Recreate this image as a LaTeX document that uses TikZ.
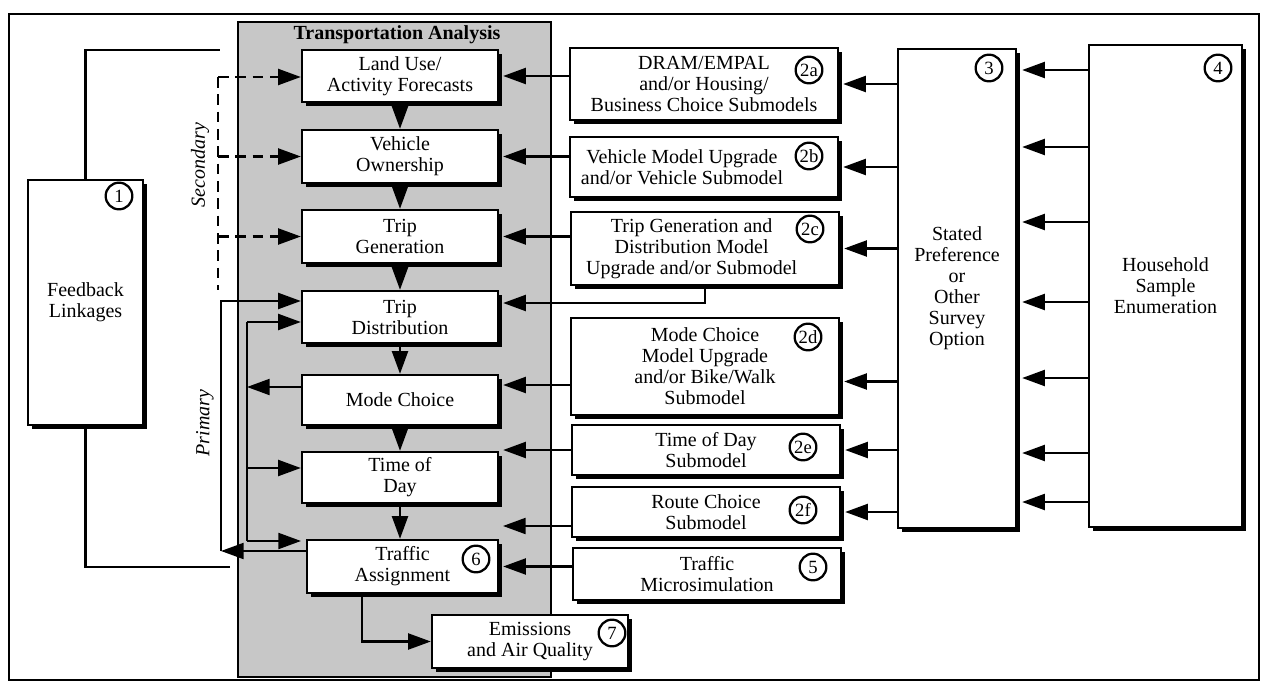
\documentclass[tikz,border=0pt]{standalone}
\usepackage{fontspec}
\setmainfont{Liberation Serif}
\usetikzlibrary{arrows.meta,shadows,calc}

\tikzset{every picture/.style={line width=0.75pt}}
\tikzset{
  blk/.style={draw, fill=white, line width=1.8pt, align=center, inner sep=2pt,
    font=\fontsize{15}{15.75}\selectfont,
    drop shadow={shadow xshift=3pt, shadow yshift=-3pt, fill=black, opacity=1}},
  num/.style={draw, circle, fill=white, line width=1.7pt, inner sep=0.5pt,
    minimum size=20pt, font=\fontsize{14}{14}\selectfont},
  arr/.style={line width=1.6pt, -{Triangle[length=17pt,width=12pt]}},
  dasharr/.style={arr, dash pattern=on 8pt off 5pt},
  sidelab/.style={rotate=90, font=\itshape\fontsize{15}{15}\selectfont},
}

\begin{document}
\begin{tikzpicture}[x=0.75pt,y=0.75pt,yscale=-1,xscale=1]
      \useasboundingbox (0,0) rectangle (1265,685);

      %Shape: Rectangle [frame]
      \draw [line width=1.2pt] (9,14) rectangle (1259,680);

      %Shape: Rectangle [shaded panel]
      \fill [black!22] (238,22) rectangle (551,677);
      \draw [line width=1.6pt] (238,22) rectangle (551,677);
      \node [font=\bfseries\fontsize{15}{15}\selectfont] (tatitle) at (397,35) {Transportation Analysis};

      % model chain
      \node [blk, minimum width=147pt, minimum height=39pt] (land) at (400,76) {Land Use/\\Activity Forecasts};
      \node [blk, minimum width=147pt, minimum height=39.75pt] (vown) at (400,156.5) {Vehicle\\Ownership};
      \node [blk, minimum width=147pt, minimum height=39.75pt] (tgen) at (400,236.5) {Trip\\Generation};
      \node [blk, minimum width=147pt, minimum height=39pt] (tdist) at (400,317) {Trip\\Distribution};
      \node [blk, minimum width=147pt, minimum height=37.5pt] (mode) at (400,400) {Mode Choice};
      \node [blk, minimum width=147pt, minimum height=38.25pt] (tod) at (400,477.5) {Time of\\Day};
      \node [blk, minimum width=143.25pt, minimum height=39.75pt] (tassign) at (402.5,566.5) {Traffic\\Assignment};
      \node [blk, minimum width=147pt, minimum height=39.75pt] (emis) at (530,641.5) {Emissions\\and Air Quality};

      % submodels
      \node [blk, minimum width=201pt, minimum height=54pt] (s2a) at (704,84) {DRAM/EMPAL\\and/or Housing/\\Business Choice Submodels};
      \node [blk, minimum width=201pt, minimum height=45pt] (s2b) at (704,167) {\hspace*{-33pt}Vehicle Model Upgrade\\\hspace*{-33pt}and/or Vehicle Submodel};
      \node [blk, minimum width=201pt, minimum height=54.75pt] (s2c) at (705,248.5) {\hspace*{-20pt}Trip Generation and\\\hspace*{-20pt}Distribution Model\\\hspace*{-20pt}Upgrade and/or Submodel};
      \node [blk, minimum width=201pt, minimum height=72.75pt] (s2d) at (705,366.5) {Mode Choice\\Model Upgrade\\and/or Bike/Walk\\Submodel};
      \node [blk, minimum width=201pt, minimum height=37.5pt] (s2e) at (706,450) {Time of Day\\Submodel};
      \node [blk, minimum width=201pt, minimum height=37.5pt] (s2f) at (706,512) {Route Choice\\Submodel};
      \node [blk, minimum width=201pt, minimum height=39pt] (micro) at (707,574) {Traffic\\Microsimulation};

      % survey side
      \node [blk, minimum width=88.5pt, minimum height=359.25pt] (survey) at (957,288.5) {Stated\\Preference\\or\\Other\\Survey\\Option};
      \node [blk, minimum width=114.75pt, minimum height=361.5pt] (hhold) at (1165.5,286) {Household\\Sample\\Enumeration};
      \node [blk, minimum width=86.25pt, minimum height=183.75pt] (fback) at (85.5,302.5) {Feedback\\Linkages};

      % numbers
      \node [num] (n1) at (119,196) {1};
      \node [num] (n2a) at (809,70) {2a};
      \node [num] (n2b) at (809,156) {2b};
      \node [num] (n2c) at (810,229) {2c};
      \node [num] (n2d) at (808,337) {2d};
      \node [num] (n2e) at (803,447) {2e};
      \node [num] (n2f) at (803,510) {2f};
      \node [num] (n3) at (989,68) {3};
      \node [num] (n4) at (1218,68) {4};
      \node [num] (n5) at (813,567) {5};
      \node [num] (n6) at (476,559) {6};
      \node [num] (n7) at (612,633) {7};

      % chain arrows
      \draw [arr] (land.south) -- (vown.north);
      \draw [arr] (vown.south) -- (tgen.north);
      \draw [arr] (tgen.south) -- (tdist.north);
      \draw [arr] (tdist.south) -- (mode.north);
      \draw [arr] (mode.south) -- (tod.north);
      \draw [arr] (tod.south) -- (tod.south |- tassign.north);
      \coordinate (taout) at (362,593);
      \draw [arr] (taout) |- (emis.west);

      % submodels into chain
      \draw [arr] (s2a.west |- land.east) -- ($(land.east)+(4,0)$);
      \draw [arr] (s2b.west |- vown.east) -- ($(vown.east)+(4,0)$);
      \draw [arr] (s2c.west |- tgen.east) -- ($(tgen.east)+(4,0)$);
      \draw [arr] (s2c.south) |- ($(tdist.east)+(4,-14)$);
      \draw [arr] ($(s2d.west |- mode.east)+(0,-15)$) -- ($(mode.east)+(4,-15)$);
      \draw [arr] (s2e.west) -- ($(s2e.west -| tod.east)+(4,0)$);
      \coordinate (gapf) at (503,526);
      \draw [arr] (s2f.west |- gapf) -- (gapf);
      \draw [arr] (micro.west |- tassign.east) -- ($(tassign.east)+(4,0)$);

      % survey into submodels
      \draw [arr] (survey.west |- s2a.east) -- ($(s2a.east)+(4,0)$);
      \draw [arr] (survey.west |- s2b.east) -- ($(s2b.east)+(4,0)$);
      \draw [arr] (survey.west |- s2c.east) -- ($(s2c.east)+(4,0)$);
      \draw [arr] ($(survey.west |- s2d.east)+(0,15)$) -- ($(s2d.east)+(4,15)$);
      \draw [arr] (survey.west |- s2e.east) -- ($(s2e.east)+(4,0)$);
      \draw [arr] (survey.west |- s2f.east) -- ($(s2f.east)+(4,0)$);

      % household into survey
      \foreach \yy in {70,147,222,302,378,453,502}{
        \coordinate (lvl) at (0,\yy);
        \draw [arr] (lvl -| hhold.west) -- ($(lvl -| survey.east)+(5,0)$);
      }

      % secondary feedback
      \coordinate (secT) at (218,77);
      \coordinate (secB) at (218,290);
      \draw [line width=1.6pt, dash pattern=on 8pt off 5pt] (secT) -- (secB);
      \draw [dasharr] (secT) -- (secT -| land.west);
      \draw [dasharr] (secT |- vown.west) -- (vown.west);
      \draw [dasharr] (secT |- tgen.west) -- (tgen.west);
      \node [sidelab] (seclab) at (200,165) {Secondary};

      % primary feedback
      \coordinate (prim) at (221,551);
      \draw [arr] (tassign.west |- prim) -- (prim);
      \draw [arr] (prim) |- ($(tdist.west)+(0,-16)$);
      \node [sidelab] (primlab) at (205,423) {Primary};

      % inner loop
      \coordinate (loopT) at (247,322);
      \coordinate (loopM) at (247,387);
      \coordinate (loopD) at (247,468);
      \coordinate (loopB) at (247,541);
      \draw [line width=1.6pt] (loopT) -- (loopB);
      \draw [arr] (loopT) -- (loopT -| tdist.west);
      \draw [arr] (loopM -| mode.west) -- (loopM);
      \draw [arr] (loopD) -- (loopD -| tod.west);
      \draw [arr] (loopB) -- (301,541);

      % feedback linkages
      \coordinate (fbtop) at (220,50);
      \coordinate (fbbot) at (230,567);
      \draw [line width=1.6pt] (fback.north) |- (fbtop);
      \draw [line width=1.6pt] (fback.south) |- (fbbot);
\end{tikzpicture}
\end{document}
